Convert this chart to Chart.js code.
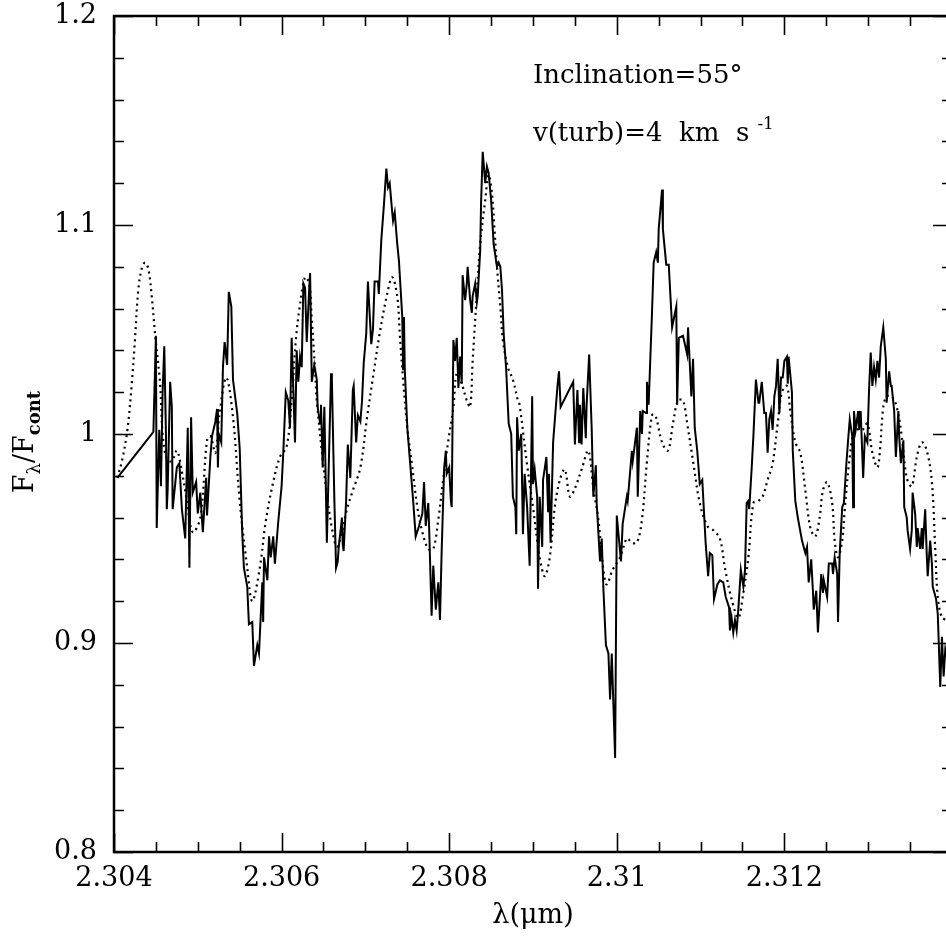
<!DOCTYPE html>
<html>
<head>
<meta charset="utf-8">
<title>Spectrum fit</title>
<script src="https://cdn.jsdelivr.net/npm/chart.js@4.4.1/dist/chart.umd.min.js"></script>
<style>
  html, body { margin: 0; padding: 0; background: #fff; overflow: hidden; }
  #wrap { width: 946px; height: 936px; overflow: hidden; }
  canvas { display: block; }
</style>
</head>
<body>
<div id="wrap"><canvas id="spectrumChart" width="958" height="936"></canvas></div>
<script>
// ---- data ----
// observed spectrum (solid line): wavelength in micron, normalised flux
const obsWave = [
  2.30404, 2.30447, 2.30450, 2.30451, 2.30454, 2.30456, 2.30458, 2.30460, 2.30462, 2.30463,
  2.30464, 2.30467, 2.30469, 2.30470, 2.30475, 2.30478, 2.30481, 2.30485, 2.30488, 2.30490,
  2.30492, 2.30494, 2.30498, 2.30500, 2.30503, 2.30505, 2.30506, 2.30510, 2.30511, 2.30515,
  2.30517, 2.30521, 2.30523, 2.30524, 2.30525, 2.30528, 2.30530, 2.30532, 2.30535, 2.30537,
  2.30540, 2.30542, 2.30547, 2.30550, 2.30553, 2.30555, 2.30559, 2.30561, 2.30565, 2.30567,
  2.30571, 2.30573, 2.30577, 2.30578, 2.30579, 2.30583, 2.30585, 2.30587, 2.30590, 2.30592,
  2.30596, 2.30600, 2.30602, 2.30605, 2.30608, 2.30610, 2.30612, 2.30616, 2.30618, 2.30620,
  2.30622, 2.30624, 2.30626, 2.30628, 2.30630, 2.30633, 2.30634, 2.30636, 2.30639, 2.30642,
  2.30643, 2.30646, 2.30647, 2.30649, 2.30651, 2.30654, 2.30655, 2.30659, 2.30660, 2.30663,
  2.30665, 2.30667, 2.30668, 2.30672, 2.30673, 2.30674, 2.30677, 2.30679, 2.30682, 2.30685,
  2.30686, 2.30689, 2.30691, 2.30694, 2.30696, 2.30698, 2.30701, 2.30703, 2.30707, 2.30709,
  2.30711, 2.30715, 2.30716, 2.30719, 2.30722, 2.30725, 2.30727, 2.30729, 2.30732, 2.30733,
  2.30735, 2.30738, 2.30740, 2.30744, 2.30745, 2.30746, 2.30747, 2.30750, 2.30753, 2.30757,
  2.30760, 2.30764, 2.30768, 2.30770, 2.30772, 2.30775, 2.30776, 2.30779, 2.30781, 2.30784,
  2.30787, 2.30789, 2.30791, 2.30794, 2.30796, 2.30797, 2.30800, 2.30802, 2.30803, 2.30805,
  2.30807, 2.30809, 2.30811, 2.30813, 2.30815, 2.30816, 2.30819, 2.30821, 2.30822, 2.30825,
  2.30827, 2.30828, 2.30831, 2.30833, 2.30834, 2.30837, 2.30838, 2.30840, 2.30843, 2.30845,
  2.30847, 2.30850, 2.30853, 2.30857, 2.30859, 2.30861, 2.30863, 2.30865, 2.30868, 2.30869,
  2.30871, 2.30874, 2.30876, 2.30879, 2.30880, 2.30881, 2.30883, 2.30886, 2.30888, 2.30890,
  2.30893, 2.30896, 2.30899, 2.30900, 2.30902, 2.30905, 2.30906, 2.30908, 2.30911, 2.30912,
  2.30916, 2.30918, 2.30919, 2.30921, 2.30924, 2.30925, 2.30929, 2.30931, 2.30933, 2.30948,
  2.30950, 2.30953, 2.30955, 2.30956, 2.30958, 2.30960, 2.30963, 2.30964, 2.30967, 2.30970,
  2.30972, 2.30975, 2.30976, 2.30980, 2.30982, 2.30984, 2.30987, 2.30990, 2.30992, 2.30994,
  2.30998, 2.31000, 2.31005, 2.31007, 2.31012, 2.31013, 2.31018, 2.31019, 2.31024, 2.31025,
  2.31028, 2.31030, 2.31031, 2.31035, 2.31036, 2.31038, 2.31042, 2.31044, 2.31047, 2.31049,
  2.31050, 2.31054, 2.31055, 2.31059, 2.31062, 2.31066, 2.31071, 2.31072, 2.31074, 2.31079,
  2.31084, 2.31085, 2.31089, 2.31091, 2.31093, 2.31096, 2.31099, 2.31102, 2.31104, 2.31106,
  2.31109, 2.31111, 2.31114, 2.31116, 2.31120, 2.31123, 2.31127, 2.31130, 2.31134, 2.31135,
  2.31137, 2.31139, 2.31141, 2.31143, 2.31145, 2.31148, 2.31151, 2.31153, 2.31155, 2.31157,
  2.31158, 2.31161, 2.31163, 2.31166, 2.31169, 2.31170, 2.31173, 2.31176, 2.31178, 2.31180,
  2.31182, 2.31184, 2.31186, 2.31188, 2.31190, 2.31192, 2.31194, 2.31196, 2.31198, 2.31200,
  2.31203, 2.31204, 2.31205, 2.31209, 2.31210, 2.31213, 2.31216, 2.31221, 2.31225, 2.31227,
  2.31229, 2.31232, 2.31234, 2.31235, 2.31238, 2.31240, 2.31244, 2.31246, 2.31247, 2.31251,
  2.31253, 2.31257, 2.31258, 2.31260, 2.31263, 2.31264, 2.31266, 2.31269, 2.31271, 2.31274,
  2.31276, 2.31278, 2.31281, 2.31282, 2.31283, 2.31285, 2.31288, 2.31289, 2.31291, 2.31294,
  2.31296, 2.31299, 2.31301, 2.31303, 2.31305, 2.31307, 2.31309, 2.31311, 2.31313, 2.31315,
  2.31318, 2.31321, 2.31322, 2.31325, 2.31327, 2.31328, 2.31331, 2.31333, 2.31336, 2.31337,
  2.31339, 2.31342, 2.31343, 2.31346, 2.31347, 2.31350, 2.31352, 2.31353, 2.31356, 2.31358,
  2.31359, 2.31362, 2.31364, 2.31365, 2.31368, 2.31370, 2.31371, 2.31374, 2.31376, 2.31377,
  2.31381, 2.31383, 2.31386, 2.31388, 2.31390, 2.31392, 2.31398
];
const obsFlux = [
  0.979, 1.001, 1.047, 0.955, 1.002, 0.975, 1.020, 1.042, 1.000, 0.964,
  0.973, 1.025, 1.013, 0.964, 0.984, 0.986, 0.964, 0.950, 1.003, 0.936,
  1.008, 0.972, 0.977, 0.962, 0.972, 0.959, 0.953, 0.979, 0.961, 0.989,
  0.999, 1.006, 1.012, 0.984, 1.000, 0.996, 1.032, 1.044, 1.033, 1.068,
  1.061, 1.026, 1.010, 0.993, 0.953, 0.936, 0.927, 0.909, 0.910, 0.889,
  0.899, 0.895, 0.929, 0.910, 0.941, 0.930, 0.951, 0.941, 0.951, 0.938,
  0.958, 0.975, 0.991, 1.020, 1.016, 1.003, 1.046, 0.996, 1.040, 1.025,
  1.037, 1.032, 1.072, 1.070, 1.044, 1.070, 1.077, 1.025, 1.033, 1.026,
  1.013, 1.005, 1.014, 0.984, 1.013, 0.948, 0.964, 1.029, 1.026, 0.968,
  0.936, 0.939, 0.945, 0.960, 0.947, 0.944, 0.968, 0.995, 0.979, 1.021,
  1.023, 0.996, 1.009, 1.006, 1.016, 1.034, 1.048, 1.073, 1.043, 1.050,
  1.073, 1.073, 1.067, 1.093, 1.109, 1.127, 1.118, 1.120, 1.106, 1.102,
  1.106, 1.091, 1.083, 1.056, 1.031, 1.056, 1.031, 1.003, 0.988, 0.968,
  0.951, 0.956, 0.962, 0.977, 0.956, 0.967, 0.956, 0.913, 0.937, 0.916,
  0.929, 0.911, 0.944, 0.984, 0.992, 0.981, 0.984, 0.968, 0.965, 1.045,
  1.035, 1.046, 1.022, 1.037, 1.024, 1.076, 1.064, 1.072, 1.080, 1.064,
  1.058, 1.066, 1.072, 1.063, 1.066, 1.088, 1.110, 1.135, 1.120, 1.128,
  1.125, 1.112, 1.091, 1.080, 1.082, 1.080, 1.069, 1.048, 1.031, 1.022,
  1.005, 1.000, 0.970, 0.965, 0.952, 1.008, 0.992, 1.000, 0.952, 0.981,
  0.965, 0.937, 1.018, 0.976, 0.983, 0.970, 0.926, 0.970, 0.946, 0.978,
  0.989, 0.963, 0.981, 0.948, 0.996, 0.996, 1.022, 1.030, 1.013, 1.025,
  0.995, 1.021, 0.996, 1.014, 0.995, 1.022, 0.998, 1.014, 1.038, 1.003,
  0.970, 0.985, 0.967, 0.939, 0.950, 0.926, 0.899, 0.895, 0.873, 0.895,
  0.845, 0.961, 0.939, 0.957, 0.970, 0.968, 0.992, 0.987, 1.003, 0.970,
  1.011, 1.000, 1.011, 1.010, 1.025, 1.014, 1.058, 1.082, 1.087, 1.082,
  1.098, 1.117, 1.098, 1.081, 1.081, 1.051, 1.061, 1.014, 1.046, 1.047,
  1.038, 1.051, 1.018, 1.036, 1.003, 0.992, 0.976, 0.978, 0.963, 0.948,
  0.932, 0.943, 0.942, 0.921, 0.928, 0.930, 0.929, 0.922, 0.917, 0.906,
  0.912, 0.905, 0.911, 0.906, 0.916, 0.935, 0.927, 0.935, 0.967, 0.968,
  0.964, 0.984, 0.999, 1.026, 1.015, 1.015, 1.025, 1.010, 1.010, 0.991,
  1.007, 1.011, 1.002, 1.018, 1.023, 1.036, 1.010, 1.027, 1.027, 1.035,
  1.037, 1.024, 1.037, 1.020, 0.992, 0.968, 0.960, 0.949, 0.943, 0.946,
  0.929, 0.940, 0.925, 0.916, 0.925, 0.905, 0.933, 0.924, 0.930, 0.922,
  0.938, 0.938, 0.933, 0.941, 0.933, 0.910, 0.943, 0.965, 0.967, 0.986,
  0.997, 1.007, 0.999, 0.965, 1.011, 1.002, 1.011, 1.002, 1.011, 0.979,
  0.999, 0.996, 1.021, 1.039, 1.023, 1.032, 1.026, 1.035, 1.027, 1.042,
  1.051, 1.036, 1.015, 1.030, 1.023, 1.023, 1.011, 0.989, 1.011, 0.999,
  0.986, 0.997, 0.965, 0.960, 0.954, 0.945, 0.954, 0.972, 0.962, 0.946,
  0.955, 0.945, 0.955, 0.945, 0.964, 0.941, 0.932, 0.949, 0.938, 0.927,
  0.921, 0.914, 0.879, 0.903, 0.884, 0.897, 0.885
];

// model spectrum (dotted line)
const modelWave = [
  2.30404, 2.30410, 2.30416, 2.30421, 2.30425, 2.30429, 2.30433, 2.30437, 2.30441, 2.30445,
  2.30449, 2.30455, 2.30458, 2.30463, 2.30469, 2.30475, 2.30481, 2.30487, 2.30494, 2.30503,
  2.30511, 2.30515, 2.30521, 2.30526, 2.30534, 2.30542, 2.30550, 2.30559, 2.30565, 2.30574,
  2.30581, 2.30590, 2.30598, 2.30606, 2.30612, 2.30617, 2.30622, 2.30628, 2.30633, 2.30636,
  2.30640, 2.30642, 2.30649, 2.30655, 2.30661, 2.30666, 2.30672, 2.30678, 2.30685, 2.30694,
  2.30702, 2.30709, 2.30717, 2.30726, 2.30732, 2.30738, 2.30741, 2.30745, 2.30750, 2.30756,
  2.30762, 2.30768, 2.30775, 2.30781, 2.30787, 2.30793, 2.30799, 2.30805, 2.30809, 2.30815,
  2.30821, 2.30825, 2.30828, 2.30833, 2.30837, 2.30843, 2.30847, 2.30851, 2.30854, 2.30857,
  2.30861, 2.30864, 2.30870, 2.30876, 2.30882, 2.30884, 2.30893, 2.30900, 2.30908, 2.30914,
  2.30920, 2.30926, 2.30932, 2.30938, 2.30944, 2.30950, 2.30958, 2.30966, 2.30972, 2.30978,
  2.30984, 2.30988, 2.30995, 2.31004, 2.31012, 2.31018, 2.31024, 2.31030, 2.31036, 2.31042,
  2.31046, 2.31054, 2.31061, 2.31067, 2.31073, 2.31079, 2.31084, 2.31091, 2.31099, 2.31108,
  2.31115, 2.31123, 2.31129, 2.31137, 2.31145, 2.31151, 2.31157, 2.31163, 2.31169, 2.31174,
  2.31180, 2.31186, 2.31192, 2.31197, 2.31203, 2.31207, 2.31213, 2.31219, 2.31225, 2.31231,
  2.31237, 2.31242, 2.31246, 2.31251, 2.31257, 2.31260, 2.31264, 2.31269, 2.31272, 2.31278,
  2.31284, 2.31293, 2.31299, 2.31305, 2.31311, 2.31314, 2.31318, 2.31322, 2.31328, 2.31334,
  2.31340, 2.31346, 2.31352, 2.31358, 2.31364, 2.31370, 2.31376, 2.31380, 2.31383, 2.31388,
  2.31393, 2.31400
];
const modelFlux = [
  0.979, 0.988, 1.002, 1.023, 1.045, 1.069, 1.079, 1.082, 1.079, 1.066,
  1.048, 1.024, 1.000, 0.988, 0.987, 0.992, 0.982, 0.968, 0.953, 0.960,
  0.997, 0.999, 0.991, 1.010, 1.027, 1.008, 0.968, 0.936, 0.920, 0.936,
  0.958, 0.977, 0.989, 0.994, 1.016, 1.045, 1.062, 1.075, 1.072, 1.055,
  1.030, 1.016, 0.988, 0.968, 0.953, 0.946, 0.953, 0.964, 0.973, 0.984,
  1.008, 1.027, 1.048, 1.067, 1.075, 1.066, 1.048, 1.026, 1.003, 0.984,
  0.965, 0.953, 0.945, 0.945, 0.959, 0.979, 0.997, 1.013, 1.029, 1.024,
  1.016, 1.013, 1.035, 1.067, 1.091, 1.112, 1.124, 1.115, 1.098, 1.080,
  1.061, 1.045, 1.032, 1.026, 1.016, 1.014, 0.985, 0.965, 0.941, 0.932,
  0.941, 0.965, 0.978, 0.983, 0.970, 0.974, 0.983, 0.992, 0.974, 0.959,
  0.935, 0.928, 0.935, 0.941, 0.950, 0.948, 0.948, 0.959, 0.987, 1.009,
  1.009, 0.996, 0.992, 1.005, 1.016, 1.016, 1.005, 0.987, 0.967, 0.956,
  0.954, 0.950, 0.936, 0.921, 0.912, 0.924, 0.941, 0.967, 0.968, 0.970,
  0.978, 0.986, 1.005, 1.020, 1.023, 1.011, 0.996, 0.991, 0.973, 0.955,
  0.951, 0.960, 0.973, 0.977, 0.967, 0.949, 0.941, 0.949, 0.964, 0.989,
  1.002, 1.002, 1.005, 0.991, 0.984, 0.992, 1.013, 1.018, 1.018, 1.013,
  0.999, 0.979, 0.975, 0.989, 0.996, 0.992, 0.977, 0.945, 0.922, 0.912,
  0.911, 0.905
];

// axes
const xRange = [2.304, 2.314];
const yRange = [0.8, 1.2];
const xTickValues = [2.304, 2.306, 2.308, 2.310, 2.312, 2.314];
const xTickLabels = ['2.304', '2.306', '2.308', '2.31', '2.312', ''];
const yTickValues = [0.8, 0.9, 1.0, 1.1, 1.2];
const yTickLabels = ['0.8', '0.9', '1', '1.1', '1.2'];
const xMinorStep = 0.0005;   // 4 minor ticks per labelled interval
const yMinorStep = 0.02;

const FONT = '"DejaVu Serif", "Liberation Serif", serif';

document.addEventListener('DOMContentLoaded', function() {
    initializeSpectrumChart();
});

// frame with inward ticks on all four sides, plus axis label with subscripts and notes
const framePlugin = {
    id: 'framePlugin',
    afterDraw(chart) {
        const ctx = chart.ctx;
        const area = chart.chartArea;
        const xs = chart.scales.x;
        const ys = chart.scales.y;
        ctx.save();
        ctx.strokeStyle = '#000';
        ctx.lineCap = 'butt';

        // ticks
        ctx.lineWidth = 1.6;
        ctx.beginPath();
        const nx = Math.round((xRange[1] - xRange[0]) / xMinorStep);
        for (let i = 0; i <= nx; i++) {
            const px = Math.round(xs.getPixelForValue(xRange[0] + i * xMinorStep)) + 0.5;
            const len = i % 4 === 0 ? 19 : 10;
            ctx.moveTo(px, area.bottom); ctx.lineTo(px, area.bottom - len);
            ctx.moveTo(px, area.top); ctx.lineTo(px, area.top + len);
        }
        const ny = Math.round((yRange[1] - yRange[0]) / yMinorStep);
        for (let i = 0; i <= ny; i++) {
            const py = Math.round(ys.getPixelForValue(yRange[0] + i * yMinorStep)) + 0.5;
            const len = i % 5 === 0 ? 19 : 10;
            ctx.moveTo(area.left, py); ctx.lineTo(area.left + len, py);
            ctx.moveTo(area.right, py); ctx.lineTo(area.right - len, py);
        }
        ctx.stroke();

        // frame
        ctx.lineWidth = 2.5;
        ctx.strokeRect(area.left, area.top, area.right - area.left, area.bottom - area.top);

        // y axis title: F_lambda / F_cont
        ctx.fillStyle = '#000';
        ctx.textBaseline = 'alphabetic';
        const parts = [
            { t: 'F', f: '27px ' + FONT, dy: 0 },
            { t: 'λ', f: '18px ' + FONT, dy: 7 },
            { t: '/', f: '27px ' + FONT, dy: 0 },
            { t: 'F', f: '27px ' + FONT, dy: 0 },
            { t: 'cont', f: 'bold 18px ' + FONT, dy: 7 }
        ];
        let total = 0;
        parts.forEach(p => { ctx.font = p.f; p.w = ctx.measureText(p.t).width; total += p.w; });
        ctx.translate(24, (area.top + area.bottom) / 2 + 8);
        ctx.rotate(-Math.PI / 2);
        let cx = -total / 2;
        parts.forEach(p => {
            ctx.font = p.f;
            ctx.fillText(p.t, cx, 9 + p.dy);
            cx += p.w;
        });
        ctx.setTransform(1, 0, 0, 1, 0, 0);

        // notes in the upper right
        const tx = xs.getPixelForValue(2.309);
        ctx.font = '26px ' + FONT;
        ctx.textAlign = 'left';
        ctx.fillText('Inclination=55°', tx, ys.getPixelForValue(1.168));
        const y2 = ys.getPixelForValue(1.140);
        const line2 = 'v(turb)=4  km  s';
        ctx.fillText(line2, tx, y2);
        const w2 = ctx.measureText(line2).width;
        ctx.font = '17px ' + FONT;
        ctx.fillText('-1', tx + w2 + 8, y2 - 12);
        ctx.restore();
    }
};

// keep the plot box exactly where the layout padding puts it
function dropLabelPadding(scale) {
    scale.paddingTop = 0;
    scale.paddingBottom = 0;
    scale.paddingLeft = 0;
    scale.paddingRight = 0;
}

function initializeSpectrumChart() {
    const ctx = document.getElementById('spectrumChart');
    if (!ctx) return;

    const observed = obsWave.map((w, i) => ({ x: w, y: obsFlux[i] }));
    const model = modelWave.map((w, i) => ({ x: w, y: modelFlux[i] }));

    new Chart(ctx, {
        type: 'line',
        data: {
            datasets: [
                {
                    label: 'Model',
                    data: model,
                    borderColor: '#000',
                    borderWidth: 2.2,
                    borderDash: [2, 4],
                    pointRadius: 0,
                    tension: 0.35,
                    fill: false
                },
                {
                    label: 'Observed',
                    data: observed,
                    borderColor: '#000',
                    borderWidth: 2,
                    pointRadius: 0,
                    tension: 0,
                    fill: false
                }
            ]
        },
        options: {
            responsive: false,
            animation: false,
            devicePixelRatio: 1,
            layout: {
                padding: { top: 16, right: 6, left: 0, bottom: 0 }
            },
            plugins: {
                legend: { display: false },
                tooltip: { enabled: false }
            },
            scales: {
                x: {
                    type: 'linear',
                    min: xRange[0],
                    max: xRange[1],
                    grid: { display: false, drawTicks: false },
                    border: { display: false },
                    afterBuildTicks: function(scale) {
                        scale.ticks = xTickValues.map(v => ({ value: v }));
                    },
                    afterFit: function(scale) {
                        scale.height = 84;
                        dropLabelPadding(scale);
                    },
                    ticks: {
                        autoSkip: false,
                        maxRotation: 0,
                        padding: 13,
                        color: '#000',
                        font: { family: FONT, size: 27, lineHeight: 1.0 },
                        callback: function(value, index) { return xTickLabels[index]; }
                    },
                    title: {
                        display: true,
                        text: 'λ(μm)',
                        color: '#000',
                        font: { family: FONT, size: 27, lineHeight: 1.2 },
                        padding: { top: 0, bottom: 4 }
                    }
                },
                y: {
                    type: 'linear',
                    min: yRange[0],
                    max: yRange[1],
                    grid: { display: false, drawTicks: false },
                    border: { display: false },
                    afterBuildTicks: function(scale) {
                        scale.ticks = yTickValues.map(v => ({ value: v }));
                    },
                    afterFit: function(scale) {
                        scale.width = 114;
                        dropLabelPadding(scale);
                    },
                    ticks: {
                        padding: 17,
                        color: '#000',
                        font: { family: FONT, size: 27, lineHeight: 1.0 },
                        callback: function(value, index) { return yTickLabels[index]; }
                    }
                }
            }
        },
        plugins: [framePlugin]
    });
}
</script>
</body>
</html>
